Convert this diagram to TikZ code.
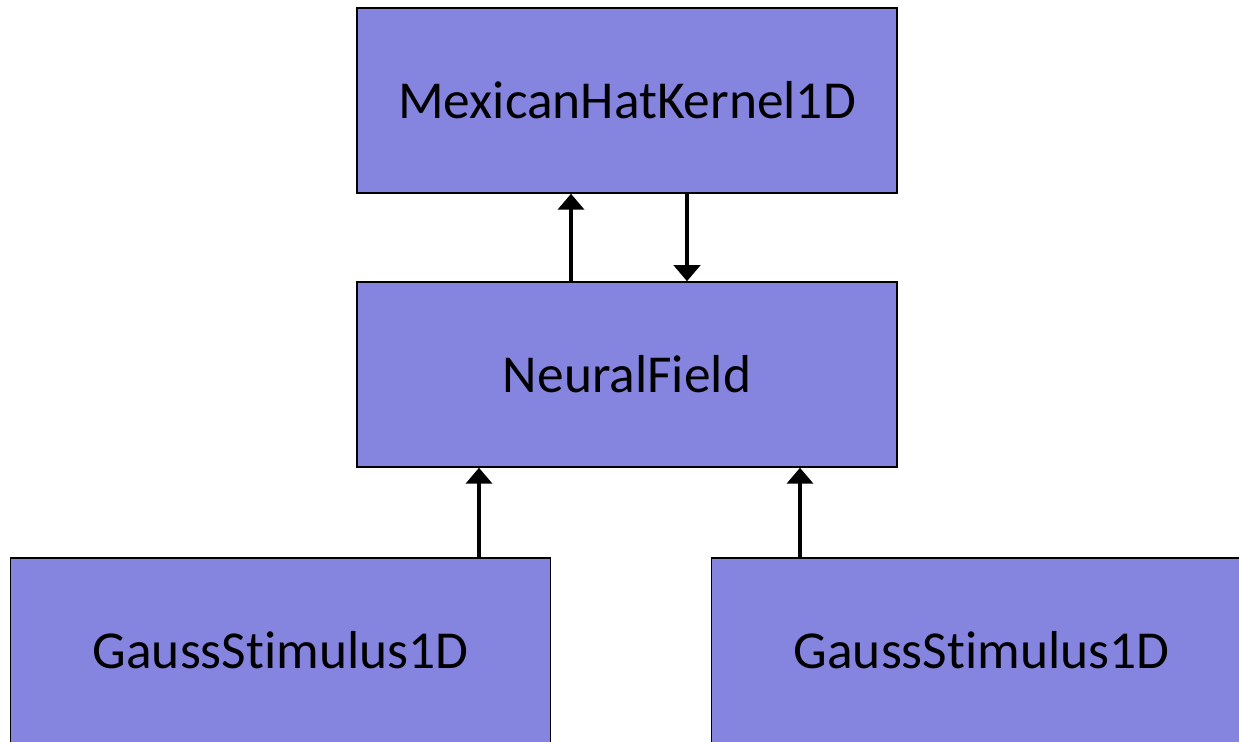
\documentclass[tikz,border=0pt]{standalone}
\usepackage{fontspec}
\setmainfont{Carlito}[Ligatures=NoCommon]
\usetikzlibrary{arrows.meta}
\definecolor{boxfill}{RGB}{133,133,224}
\tikzset{
  klasse/.style={draw=black,line width=.75pt,fill=boxfill,minimum width=270pt,minimum height=92.5pt,
    inner sep=0pt,font=\fontsize{26.7}{31}\selectfont},
  pfeil/.style={line width=2.3pt,-{Triangle[width=13pt,length=8pt]}},
}
\begin{document}
\begin{tikzpicture}[x=.5pt,y=-.5pt]
				\useasboundingbox (0,0) rectangle (1239,742);
				\clip (0,0) rectangle (1239,742);
				\path
				(627,100.5) node[klasse] (kernel) {MexicanHatKernel1D}
				++(0,274) node[klasse] (feld) {NeuralField}
				(280.5,650.5) node[klasse] (reiz1) {GaussStimulus1D}
				++(701,0) node[klasse] (reiz2) {GaussStimulus1D};
				% x-Lagen der Pfeile
				\coordinate (p1) at (571,0);
				\coordinate (p2) at (687,0);
				\coordinate (p3) at (479,0);
				\coordinate (p4) at (800,0);
				\draw[pfeil] (p1 |- feld.north)--(p1 |- kernel.south);
				\draw[pfeil] (p2 |- kernel.south)--(p2 |- feld.north);
				\draw[pfeil] (p3 |- reiz1.north)--(p3 |- feld.south);
				\draw[pfeil] (p4 |- reiz2.north)--(p4 |- feld.south);
			\end{tikzpicture}
\end{document}
